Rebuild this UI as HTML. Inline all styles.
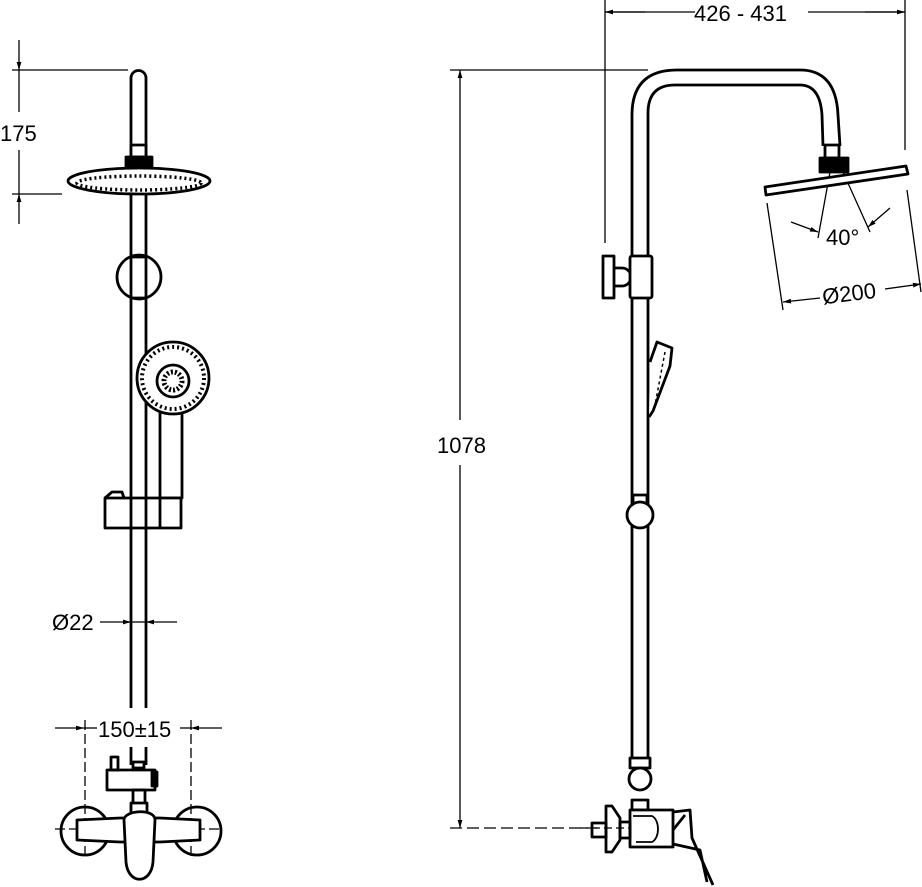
<!DOCTYPE html>
<html><head><meta charset="utf-8"><style>
html,body{margin:0;padding:0;background:#fff;}
svg{display:block;}
text{font-family:"Liberation Sans",sans-serif;font-size:22px;fill:#000;}
</style></head><body>
<svg width="922" height="887" viewBox="0 0 922 887" xmlns="http://www.w3.org/2000/svg">
<defs>
<marker id="a" viewBox="0 0 10 10" refX="10" refY="5" markerWidth="12" markerHeight="8" orient="auto-start-reverse" markerUnits="userSpaceOnUse"><path d="M0,2 L10,5 L0,8 Z" fill="#000"/></marker>
</defs>
<g fill="none" stroke="#000" stroke-width="1.3">
<line x1="12" y1="70" x2="128" y2="70"/>
<line x1="12" y1="194" x2="62" y2="194"/>
<line x1="19" y1="40" x2="19" y2="70" marker-end="url(#a)"/>
<line x1="19" y1="224" x2="19" y2="194" marker-end="url(#a)"/>
<line x1="19" y1="70" x2="19" y2="112"/>
<line x1="19" y1="150" x2="19" y2="194"/>
<line x1="100" y1="622" x2="131" y2="622" marker-end="url(#a)"/>
<line x1="177" y1="622" x2="146" y2="622" marker-end="url(#a)"/>
<line x1="131" y1="622" x2="146" y2="622"/>
<line x1="55" y1="728" x2="84" y2="728" marker-end="url(#a)"/>
<line x1="222" y1="728" x2="191" y2="728" marker-end="url(#a)"/>
<line x1="84" y1="728" x2="97" y2="728"/><line x1="180" y1="728" x2="191" y2="728"/>
<line x1="85" y1="720" x2="85" y2="860" stroke-dasharray="10,4"/>
<line x1="191" y1="720" x2="191" y2="860" stroke-dasharray="10,4"/>
<line x1="55" y1="829" x2="222" y2="829" stroke-dasharray="10,4"/>
</g>
<text x="0" y="141">175</text>
<text x="52" y="630">Ø22</text>
<text x="98" y="737">150±15</text>
<g fill="none" stroke="#000" stroke-width="2.8" stroke-linejoin="round">
<path d="M131,708 L131,78 A7.5,7.5 0 0 1 146,78 L146,708"/>
<rect x="131" y="145" width="15" height="12" fill="#fff"/>
<rect x="126" y="157" width="26" height="10" fill="#000"/>
<ellipse cx="139" cy="181" rx="71" ry="13" fill="#fff"/>
<ellipse cx="139" cy="183" rx="62" ry="7" stroke-dasharray="2,3" stroke-width="3.5"/>
<circle cx="139" cy="277" r="22" fill="#fff"/>
<rect x="131" y="257" width="15" height="41" fill="#fff"/>
<rect x="160" y="410" width="22" height="88" fill="#fff"/>
<circle cx="173" cy="378" r="36" fill="#fff"/>
<circle cx="173" cy="378" r="31" stroke-dasharray="2,3" stroke-width="4"/>
<circle cx="173" cy="381" r="16"/>
<circle cx="173" cy="381" r="9" stroke-dasharray="2,2" stroke-width="5"/>
<path d="M105,498 L112,492 L122,492 L124,498"/>
<path d="M105,498 L181,498 L181,528 L105,528 Z" fill="#fff"/>
<line x1="131" y1="498" x2="131" y2="528"/><line x1="146" y1="498" x2="146" y2="528"/>
<line x1="160" y1="498" x2="160" y2="528"/>
<rect x="107" y="770" width="48" height="20" fill="#fff"/>
<rect x="111" y="757" width="7" height="13"/>
<path d="M131,747 L131,765 M146,747 L146,765"/>
<rect x="133" y="762" width="11" height="6"/>
<rect x="152" y="772" width="5" height="14" fill="#000"/>
<rect x="133" y="790" width="12" height="17"/>
<rect x="131" y="803" width="16" height="10" fill="#fff"/>
<circle cx="85" cy="831" r="24"/>
<circle cx="197" cy="831" r="24"/>
<path d="M77,820 L120,818 L160,818 L200,820 L200,840 L160,842 L120,842 L77,840 Z" fill="#fff"/>
<path d="M124,820 C124,810 155,808 155,820 L153,862 C151,885 128,885 126,862 Z" fill="#fff"/>
</g>
<g fill="none" stroke="#000" stroke-width="1.3">
<line x1="605" y1="0" x2="605" y2="243"/>
<line x1="905" y1="0" x2="905" y2="150"/>
<line x1="645" y1="12" x2="605" y2="12" marker-end="url(#a)"/>
<line x1="865" y1="12" x2="905" y2="12" marker-end="url(#a)"/>
<line x1="605" y1="12" x2="695" y2="12"/><line x1="808" y1="12" x2="905" y2="12"/>
<line x1="450" y1="70" x2="648" y2="70"/>
<line x1="450" y1="828" x2="600" y2="828" stroke-dasharray="12,5"/>
<line x1="460" y1="420" x2="460" y2="70" marker-end="url(#a)"/>
<line x1="460" y1="465" x2="460" y2="828" marker-end="url(#a)"/>
<line x1="767" y1="203" x2="783" y2="310"/>
<line x1="907" y1="190" x2="921" y2="292"/>
<line x1="820" y1="298" x2="783" y2="302" marker-end="url(#a)"/>
<line x1="885" y1="289" x2="921" y2="284" marker-end="url(#a)"/>
<line x1="830" y1="172" x2="818" y2="238"/>
<line x1="843" y1="172" x2="870" y2="232"/>
<line x1="791" y1="222" x2="818" y2="232" marker-end="url(#a)"/>
<line x1="890" y1="208" x2="868" y2="227" marker-end="url(#a)"/>
</g>
<rect x="438" y="430" width="48" height="28" fill="#fff"/>
<text x="437" y="453">1078</text>
<text x="694" y="21">426 - 431</text>
<text x="826" y="245">40°</text>
<text x="822" y="301" transform="rotate(-7 850 292)">Ø200</text>
<g fill="none" stroke="#000" stroke-width="2.8" stroke-linejoin="round">
<path d="M632,760 L632,115 Q632,70 677,70 L800,70 Q836,70 838,115 L840,146"/>
<path d="M648,760 L648,113 Q648,85 675,85 L800,85 Q820,85 822,115 L823,146"/>
<rect x="825" y="145" width="14" height="13"/>
<rect x="820" y="158" width="28" height="14" fill="#000"/>
<path d="M765,187 L906,166 L908,174 L766,195 Z" fill="#fff"/>
<rect x="603" y="256" width="11" height="42" fill="#fff"/>
<path d="M614,268 L622,268 A8,8 0 0 1 622,286 L614,286"/>
<rect x="630" y="256" width="22" height="42" rx="2" fill="#fff"/>
<path d="M650,362 L657,342 L672,348 L670,366 L653,411 L649,417" fill="#fff"/>
<line x1="665" y1="352" x2="655" y2="405" stroke-dasharray="3,3" stroke-width="1.5"/>
<rect x="633" y="495" width="14" height="10"/>
<circle cx="640" cy="515" r="13" fill="#fff"/>
<rect x="630" y="758" width="20" height="10" fill="#fff"/>
<circle cx="640" cy="779" r="11" fill="#fff"/>
<rect x="632" y="800" width="16" height="10" fill="#fff"/>
<path d="M630,810 L673,810 L673,847 L630,847 Z" fill="#fff"/>
<path d="M633,816 L652,816 C660,820 660,838 652,842 L636,842" stroke-width="1.8"/>
<path d="M606,806 L612,806 L620,818 L620,840 L612,852 L606,852 Z" fill="#fff"/>
<rect x="620" y="822" width="10" height="16"/>
<rect x="592" y="823" width="14" height="14"/>
<path d="M673,812 L690,810 L692,838 L713,885 M673,830 L685,815 M673,844 L700,850 L707,882"/>
</g>
<line x1="580" y1="828" x2="630" y2="828" stroke="#000" stroke-width="1.3" stroke-dasharray="8,4"/>
</svg>
</body></html>
